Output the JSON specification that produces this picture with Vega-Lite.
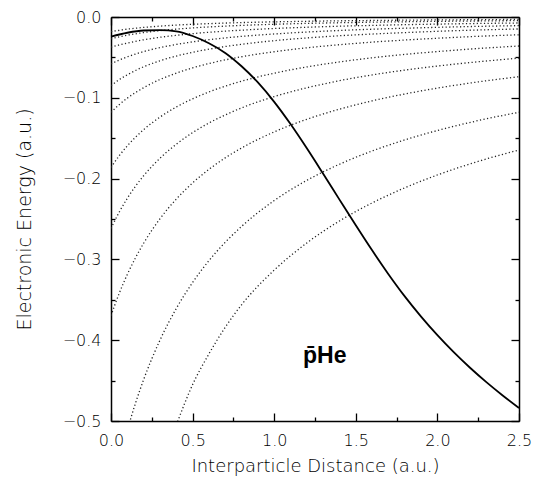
{
  "$schema": "https://vega.github.io/schema/vega-lite/v6.json",
  "width": 408,
  "height": 404,
  "autosize": "none",
  "padding": {"left": 111, "top": 17, "right": 15, "bottom": 59},
  "background": "white",
  "config": {
    "view": {"stroke": null},
    "axis": {
      "grid": false,
      "domainColor": "black",
      "domainWidth": 1.5,
      "tickColor": "black",
      "tickWidth": 1.3,
      "labelFont": "DejaVu Sans",
      "labelFontWeight": 200,
      "labelFontSize": 16,
      "labelColor": "black",
      "labelFlush": false,
      "labelOverlap": false,
      "titleFont": "DejaVu Sans",
      "titleFontWeight": 200,
      "titleFontSize": 18,
      "titleColor": "black"
    }
  },
  "datasets": {
    "dotted": [
      {"R": 0, "c3": -0.3696, "c4": -0.2616, "c5": -0.1862, "c6": -0.118, "c7": -0.085, "c8": -0.058, "c9": -0.0374, "c10": -0.027, "c11": -0.018},
      {"R": 0.05, "c3": -0.3422, "c4": -0.2416, "c5": -0.1718, "c6": -0.1085, "c7": -0.0776, "c8": -0.0533, "c9": -0.0346, "c10": -0.0245, "c11": -0.0165},
      {"R": 0.1, "c2": -0.511, "c3": -0.3186, "c4": -0.2244, "c5": -0.1595, "c6": -0.1004, "c7": -0.0715, "c8": -0.0493, "c9": -0.0322, "c10": -0.0225, "c11": -0.015},
      {"R": 0.15, "c2": -0.478, "c3": -0.2981, "c4": -0.2095, "c5": -0.1488, "c6": -0.0935, "c7": -0.0662, "c8": -0.0458, "c9": -0.0301, "c10": -0.0208, "c11": -0.0139},
      {"R": 0.2, "c2": -0.4488, "c3": -0.28, "c4": -0.1965, "c5": -0.1394, "c6": -0.0875, "c7": -0.0616, "c8": -0.0428, "c9": -0.0282, "c10": -0.0193, "c11": -0.0129},
      {"R": 0.3, "c2": -0.4, "c3": -0.2497, "c4": -0.1748, "c5": -0.1239, "c6": -0.0774, "c7": -0.0542, "c8": -0.0379, "c9": -0.0251, "c10": -0.0169, "c11": -0.0113},
      {"R": 0.4, "c1": -0.505, "c2": -0.3608, "c3": -0.2254, "c4": -0.1574, "c5": -0.1114, "c6": -0.0695, "c7": -0.0483, "c8": -0.034, "c9": -0.0227, "c10": -0.015, "c11": -0.01},
      {"R": 0.5, "c1": -0.455, "c2": -0.3286, "c3": -0.2053, "c4": -0.1431, "c5": -0.1013, "c6": -0.063, "c7": -0.0436, "c8": -0.0308, "c9": -0.0206, "c10": -0.0135, "c11": -0.009},
      {"R": 0.6, "c1": -0.417, "c2": -0.3016, "c3": -0.1886, "c4": -0.1312, "c5": -0.0928, "c6": -0.0576, "c7": -0.0398, "c8": -0.0281, "c9": -0.0189, "c10": -0.0123, "c11": -0.0082},
      {"R": 0.7, "c1": -0.384, "c2": -0.2788, "c3": -0.1743, "c4": -0.1212, "c5": -0.0856, "c6": -0.0531, "c7": -0.0365, "c8": -0.0259, "c9": -0.0175, "c10": -0.0113, "c11": -0.0075},
      {"R": 0.8, "c1": -0.3562, "c2": -0.2592, "c3": -0.1621, "c4": -0.1125, "c5": -0.0795, "c6": -0.0492, "c7": -0.0338, "c8": -0.024, "c9": -0.0163, "c10": -0.0104, "c11": -0.0069},
      {"R": 1.0, "c1": -0.3133, "c2": -0.2272, "c3": -0.1422, "c4": -0.0985, "c5": -0.0695, "c6": -0.043, "c7": -0.0293, "c8": -0.021, "c9": -0.0142, "c10": -0.009, "c11": -0.006},
      {"R": 1.2, "c1": -0.2796, "c2": -0.2022, "c3": -0.1266, "c4": -0.0876, "c5": -0.0618, "c6": -0.0381, "c7": -0.0259, "c8": -0.0186, "c9": -0.0127, "c10": -0.0079, "c11": -0.0053},
      {"R": 1.4, "c1": -0.2524, "c2": -0.1822, "c3": -0.1141, "c4": -0.0788, "c5": -0.0556, "c6": -0.0343, "c7": -0.0232, "c8": -0.0167, "c9": -0.0114, "c10": -0.0071, "c11": -0.0047},
      {"R": 1.6, "c1": -0.2301, "c2": -0.1658, "c3": -0.1038, "c4": -0.0717, "c5": -0.0505, "c6": -0.0311, "c7": -0.0211, "c8": -0.0151, "c9": -0.0104, "c10": -0.0064, "c11": -0.0043},
      {"R": 1.8, "c1": -0.2114, "c2": -0.1521, "c3": -0.0953, "c4": -0.0657, "c5": -0.0463, "c6": -0.0285, "c7": -0.0193, "c8": -0.0139, "c9": -0.0095, "c10": -0.0059, "c11": -0.0039},
      {"R": 2.0, "c1": -0.1955, "c2": -0.1405, "c3": -0.088, "c4": -0.0607, "c5": -0.0428, "c6": -0.0263, "c7": -0.0177, "c8": -0.0128, "c9": -0.0088, "c10": -0.0054, "c11": -0.0036},
      {"R": 2.25, "c1": -0.1787, "c2": -0.1282, "c3": -0.0803, "c4": -0.0554, "c5": -0.039, "c6": -0.0239, "c7": -0.0161, "c8": -0.0116, "c9": -0.008, "c10": -0.0049, "c11": -0.0033},
      {"R": 2.5, "c1": -0.1646, "c2": -0.1179, "c3": -0.0739, "c4": -0.0509, "c5": -0.0359, "c6": -0.022, "c7": -0.0148, "c8": -0.0107, "c9": -0.0074, "c10": -0.0045, "c11": -0.003}
    ],
    "solid": [
      {"R": 0, "E": -0.0243}, {"R": 0.1, "E": -0.0195}, {"R": 0.2, "E": -0.0167}, {"R": 0.3, "E": -0.0163},
      {"R": 0.4, "E": -0.0177}, {"R": 0.5, "E": -0.0235}, {"R": 0.6, "E": -0.0325}, {"R": 0.7, "E": -0.0445},
      {"R": 0.8, "E": -0.061}, {"R": 0.9, "E": -0.081}, {"R": 1.0, "E": -0.105}, {"R": 1.1, "E": -0.1325},
      {"R": 1.2, "E": -0.1625}, {"R": 1.3, "E": -0.194}, {"R": 1.4, "E": -0.226}, {"R": 1.5, "E": -0.2578},
      {"R": 1.6, "E": -0.2888}, {"R": 1.7, "E": -0.3183}, {"R": 1.8, "E": -0.3458}, {"R": 1.9, "E": -0.3708},
      {"R": 2.0, "E": -0.3938}, {"R": 2.1, "E": -0.4148}, {"R": 2.2, "E": -0.4341}, {"R": 2.3, "E": -0.4519},
      {"R": 2.4, "E": -0.4684}, {"R": 2.5, "E": -0.4839}
    ],
    "label": [{"R": 1.31, "E": -0.428, "t": "p̄He"}]
  },
  "layer": [
    {
      "data": {"name": "dotted"},
      "transform": [
        {"fold": ["c1", "c2", "c3", "c4", "c5", "c6", "c7", "c8", "c9", "c10", "c11"], "as": ["curve", "E"]},
        {"filter": "isValid(datum.E)"}
      ],
      "mark": {"type": "line", "clip": true, "interpolate": "monotone", "strokeDash": [1.2, 2.4], "strokeWidth": 1.3, "color": "#222"},
      "encoding": {
        "x": {
          "field": "R", "type": "quantitative",
          "scale": {"domain": [0, 2.5], "nice": false, "zero": false},
          "axis": {
            "orient": "bottom",
            "values": [0, 0.25, 0.5, 0.75, 1, 1.25, 1.5, 1.75, 2, 2.25, 2.5],
            "format": ".1f",
            "labelExpr": "round(datum.value*100) % 50 == 0 ? datum.label : ''",
            "tickSize": {"condition": {"test": "round(datum.value*100) % 50 == 0", "value": -8}, "value": -4},
            "labelPadding": 19,
            "title": "Interparticle Distance (a.u.)",
            "titlePadding": 5
          }
        },
        "y": {
          "field": "E", "type": "quantitative",
          "scale": {"domain": [-0.5, 0], "nice": false, "zero": false},
          "axis": {
            "orient": "left",
            "values": [0, -0.05, -0.1, -0.15, -0.2, -0.25, -0.3, -0.35, -0.4, -0.45, -0.5],
            "format": ".1f",
            "labelExpr": "abs(round(datum.value*100)) % 10 == 0 ? datum.label : ''",
            "tickSize": {"condition": {"test": "abs(round(datum.value*100)) % 10 == 0", "value": -8}, "value": -4},
            "labelPadding": 18,
            "title": "Electronic Energy (a.u.)",
            "titleFontSize": 19,
            "titlePadding": 28
          }
        },
        "detail": {"field": "curve"}
      }
    },
    {
      "data": {"name": "solid"},
      "mark": {"type": "line", "interpolate": "monotone", "strokeWidth": 1.8, "color": "black"},
      "encoding": {
        "x": {"field": "R", "type": "quantitative", "axis": null},
        "y": {"field": "E", "type": "quantitative", "axis": null}
      }
    },
    {
      "data": {"name": "label"},
      "mark": {"type": "text", "font": "Liberation Sans", "fontSize": 23, "fontWeight": "bold", "align": "center", "baseline": "alphabetic", "color": "black"},
      "encoding": {
        "x": {
          "field": "R", "type": "quantitative",
          "axis": {
            "orient": "top", "labels": false, "title": null,
            "values": [0, 0.25, 0.5, 0.75, 1, 1.25, 1.5, 1.75, 2, 2.25, 2.5],
            "tickSize": {"condition": {"test": "round(datum.value*100) % 50 == 0", "value": -8}, "value": -4}
          }
        },
        "y": {
          "field": "E", "type": "quantitative",
          "axis": {
            "orient": "right", "labels": false, "title": null,
            "values": [0, -0.05, -0.1, -0.15, -0.2, -0.25, -0.3, -0.35, -0.4, -0.45, -0.5],
            "tickSize": {"condition": {"test": "abs(round(datum.value*100)) % 10 == 0", "value": -8}, "value": -4}
          }
        },
        "text": {"field": "t"}
      }
    }
  ],
  "resolve": {"axis": {"x": "independent", "y": "independent"}}
}
